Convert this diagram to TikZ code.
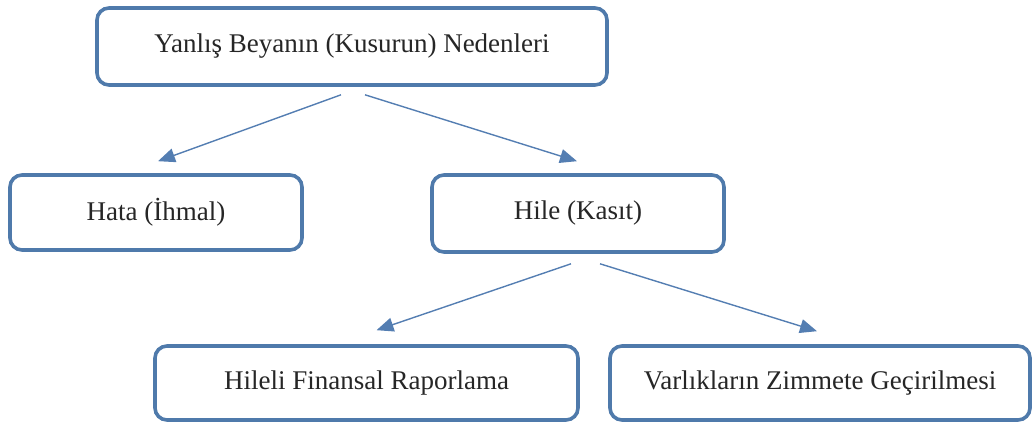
\documentclass[tikz,border=0pt]{standalone}
\usepackage{fontspec}
\setmainfont{Liberation Serif}
\usetikzlibrary{arrows.meta}
\definecolor{boxblue}{RGB}{79,122,171}
\definecolor{arrowblue}{RGB}{84,126,178}
\tikzset{
  cause/.style={draw=boxblue, line width=3.6pt, rounded corners=12pt, fill=white,
    font=\fontsize{27}{32}\selectfont, text=black!85, inner sep=0pt},
  link/.style={draw=arrowblue, line width=1.4pt,
    -{Triangle[length=17pt,width=14pt]}, arrowblue}
}
\begin{document}
\begin{tikzpicture}[x=1pt,y=-1pt]
  \useasboundingbox (0,0) rectangle (1035,425);
  % boxes: corners given as (left,top) and (right,bottom)
  \node[cause, minimum width=510pt, minimum height=77pt] (root) at (352,46.5) {Yanlış Beyanın (Kusurun) Nedenleri};
  \node[cause, minimum width=292pt, minimum height=75pt] (hata) at (156,212.5) {Hata (İhmal)};
  \node[cause, minimum width=292pt, minimum height=77pt] (hile) at (578,213.5) {Hile (Kasıt)};
  \node[cause, minimum width=423pt, minimum height=74pt] (rapor) at (366.5,383) {Hileli Finansal Raporlama};
  \node[cause, minimum width=420pt, minimum height=74pt] (zimmet) at (820,383) {Varlıkların Zimmete Geçirilmesi};
  % connectors
  \draw[link] ([xshift=-11pt,yshift=-8pt]root.south) -- ([xshift=2pt,yshift=12pt]hata.north);
  \draw[link] ([xshift=13pt,yshift=-8pt]root.south) -- ([xshift=-1pt,yshift=12pt]hile.north);
  \draw[link] ([xshift=-7pt,yshift=-10pt]hile.south) -- ([xshift=10pt,yshift=14pt]rapor.north);
  \draw[link] ([xshift=22pt,yshift=-10pt]hile.south) -- ([xshift=-3pt,yshift=13pt]zimmet.north);
\end{tikzpicture}
\end{document}
